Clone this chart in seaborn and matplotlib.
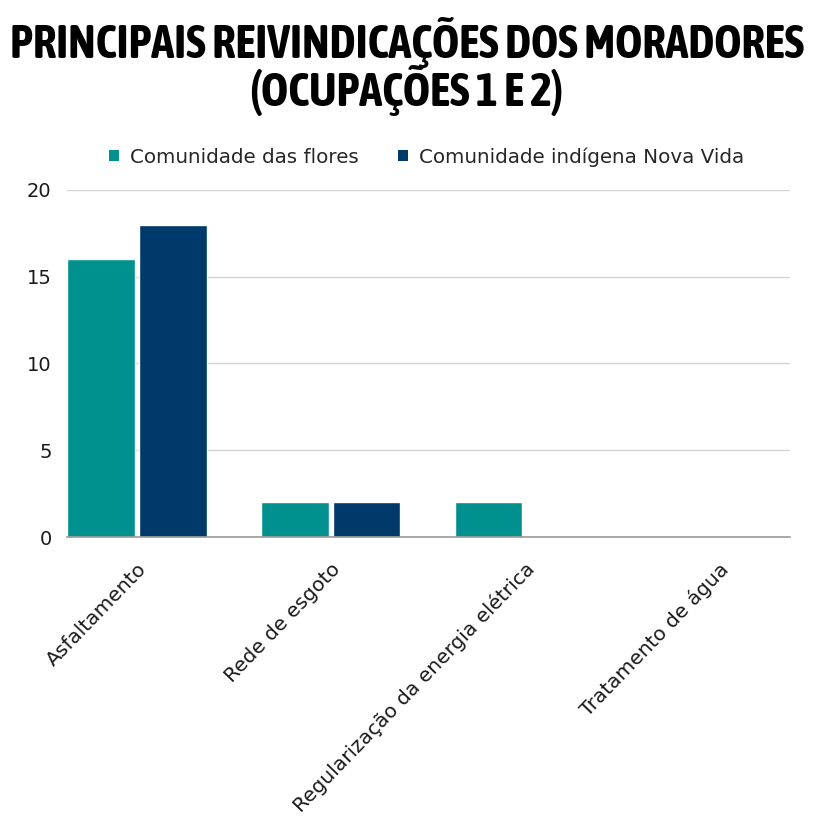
import matplotlib
matplotlib.use("Agg")
import matplotlib.pyplot as plt
import matplotlib.transforms as mtransforms
from matplotlib import font_manager as fm
from matplotlib.patches import Patch
import seaborn as sns
import pandas as pd

categories = ["Asfaltamento", "Rede de esgoto", "Regularização da energia elétrica", "Tratamento de água"]
series_names = ["Comunidade das flores", "Comunidade indígena Nova Vida"]
flores = [16, 2, 2, 0]
nova_vida = [18, 2, 0, 0]
yticks = [0, 5, 10, 15, 20]
title_lines = ["PRINCIPAIS REIVINDICAÇÕES DOS MORADORES", "(OCUPAÇÕES 1 E 2)"]

df = pd.DataFrame({
    "cat": categories * 2,
    "serie": [series_names[0]] * 4 + [series_names[1]] * 4,
    "valor": flores + nova_vida,
})

sns.set_theme(style="white")
plt.rcParams["font.family"] = ["DejaVu Sans"]

# pick a condensed font for the title if one is installed
title_font = None
title_stretch = "normal"
for f in fm.fontManager.ttflist:
    n = f.name.lower()
    if ("narrow" in n or "condensed" in n) and f.weight in ("bold", 700, "heavy", 800, 900, "black"):
        title_font = f.name
        break
if title_font is None:
    for f in fm.fontManager.ttflist:
        if f.name == "DejaVu Sans" and "condensed" in str(f.fname).lower():
            title_font = "DejaVu Sans"
            title_stretch = "condensed"
            break
if title_font is None:
    title_font = "Roboto"

fig = plt.figure(figsize=(8.14, 8.16), dpi=100)
ax = fig.add_axes([0.0823, 0.3419, 0.8882, 0.4253])

palette = {series_names[0]: "#00918F", series_names[1]: "#003A6B"}
sns.barplot(data=df, x="cat", y="valor", hue="serie", order=categories,
            hue_order=series_names, palette=palette, width=0.74, gap=0.055,
            saturation=1, ax=ax, legend=False)

ax.set_xlim(-0.36, 3.37)
ax.set_ylim(0, 20)
ax.set_yticks(yticks)
ax.set_yticklabels([str(v) for v in yticks], fontsize=14, color="#1a1a1a")
ax.yaxis.grid(True, color="#d4d4d4", linewidth=1)
ax.set_axisbelow(True)
for s in ["left", "right", "top"]:
    ax.spines[s].set_visible(False)
ax.spines["bottom"].set_color("#9a9a9a")
ax.spines["bottom"].set_linewidth(1.2)
ax.tick_params(axis="y", length=0, pad=11)
ax.tick_params(axis="x", length=0, pad=0)
ax.set_xlabel("")
ax.set_ylabel("")

ax.set_xticks(range(len(categories)))
labels = ax.set_xticklabels(categories, rotation=46, ha="right", va="center",
                            rotation_mode="anchor", fontsize=14.5, color="#1a1a1a")
shift = mtransforms.ScaledTranslation(7 / 100, -29 / 100, fig.dpi_scale_trans)
for lab in labels:
    lab.set_transform(lab.get_transform() + shift)

# title: two lines, the first one fitted to ~790 px width
t1 = fig.text(0.5, 1 - 42 / 816, title_lines[0], ha="center", va="center", fontsize=40,
              fontweight="bold", family=title_font, fontstretch=title_stretch, color="black")
r = fig.canvas.get_renderer()
w = t1.get_window_extent(r).width
fs = 40 * 790 / w
t1.set_fontsize(fs)
fig.text(0.5, 1 - 91 / 816, title_lines[1], ha="center", va="center", fontsize=fs,
         fontweight="bold", family=title_font, fontstretch=title_stretch, color="black")

# legend
handles = [Patch(facecolor=palette[n], edgecolor="none") for n in series_names]
fig.legend(handles, series_names, loc="center", bbox_to_anchor=(0.524, 1 - 157 / 816), ncol=2,
           frameon=False, fontsize=14.3, handlelength=0.5, handleheight=0.5,
           handletextpad=0.55, columnspacing=2.0)

fig.savefig("out.png", dpi=100, facecolor="white")
